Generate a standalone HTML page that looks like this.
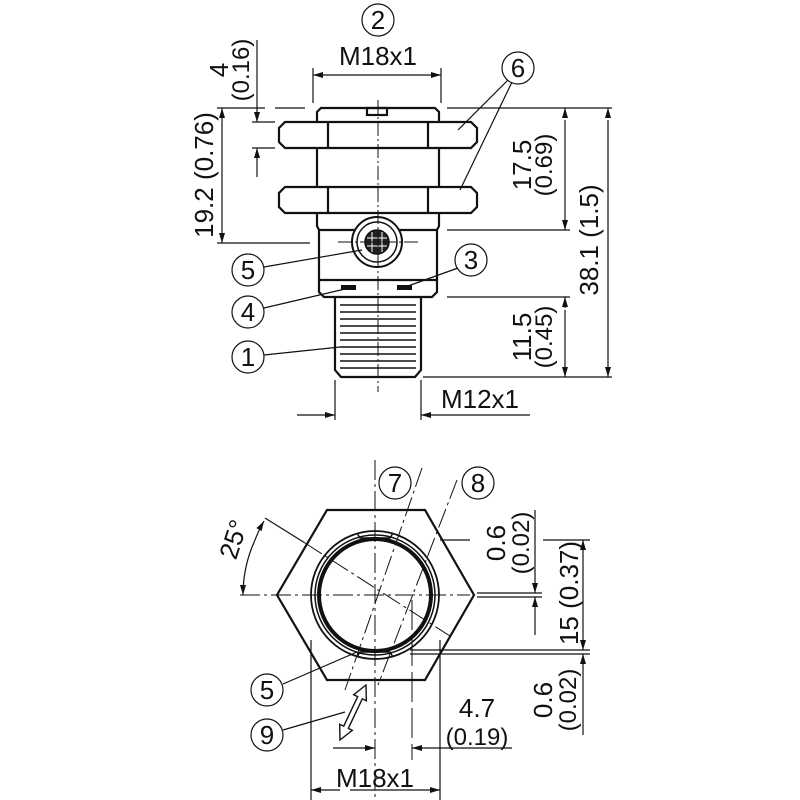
<!DOCTYPE html>
<html><head><style>body{margin:0;background:#fff}svg{display:block}text{font-family:"Liberation Sans",sans-serif;fill:#111}</style></head>
<body>
<svg width="800" height="800" viewBox="0 0 800 800" xmlns="http://www.w3.org/2000/svg">
<defs>
<marker id="a" markerWidth="10" markerHeight="8" refX="10" refY="4" orient="auto" markerUnits="userSpaceOnUse"><path d="M0,1 L10,4 L0,7 Z" fill="#111"/></marker>
</defs>
<g stroke="#111" fill="none" stroke-width="1.2">
<!-- TOP VIEW -->
<circle cx="378" cy="20" r="16"/>
<line x1="313" y1="68" x2="313" y2="103"/><line x1="441" y1="68" x2="441" y2="103"/>
<line x1="323" y1="75" x2="313" y2="75" marker-end="url(#a)"/>
<line x1="323" y1="75" x2="441" y2="75" marker-end="url(#a)"/>
<g stroke-width="2.2">
<path d="M317,122 L317,112 L321,108 L435,108 L439,112 L439,122"/>
<rect x="367" y="108" width="20" height="7"/>
<path d="M285,122 L471,122 L477,128 L477,142 L471,148 L285,148 L279,142 L279,128 Z"/>
<line x1="328" y1="122" x2="328" y2="148"/><line x1="428" y1="122" x2="428" y2="148"/>
<line x1="317" y1="148" x2="317" y2="187"/><line x1="439" y1="148" x2="439" y2="187"/>
<path d="M285,187 L471,187 L477,193 L477,207 L471,213 L285,213 L279,207 L279,193 Z"/>
<line x1="328" y1="187" x2="328" y2="213"/><line x1="428" y1="187" x2="428" y2="213"/>
<path d="M317,213 L317,226 L319,230 L319,292 L324,297 L432,297 L437,292 L437,230 L439,226 L439,213"/>
<line x1="319" y1="230" x2="437" y2="230"/>
<line x1="319" y1="280" x2="437" y2="280"/>
<path d="M335,297 L335,370 L341,377 L415,377 L421,370 L421,297"/>
</g>
<g stroke-width="1.5">
<line x1="340" y1="305" x2="416" y2="305"/><line x1="340" y1="312" x2="416" y2="312"/><line x1="340" y1="319" x2="416" y2="319"/><line x1="340" y1="326" x2="416" y2="326"/><line x1="340" y1="333" x2="416" y2="333"/><line x1="340" y1="340" x2="416" y2="340"/><line x1="340" y1="347" x2="416" y2="347"/><line x1="340" y1="354" x2="416" y2="354"/><line x1="340" y1="361" x2="416" y2="361"/><line x1="340" y1="368" x2="416" y2="368"/>
</g>
<rect x="341" y="285" width="15" height="5" fill="#111" stroke="none"/>
<rect x="397" y="285" width="15" height="5" fill="#111" stroke="none"/>
<circle cx="377" cy="242" r="25" stroke-width="2" fill="#fff"/>
<circle cx="377" cy="242" r="20" stroke-width="1.5"/>
<circle cx="377" cy="242" r="12" fill="#222" stroke-width="1.5"/>
<g stroke="#fff" stroke-width="1"><line x1="372" y1="232" x2="372" y2="252"/><line x1="382" y1="232" x2="382" y2="252"/><line x1="367" y1="238" x2="387" y2="238"/><line x1="367" y1="246" x2="387" y2="246"/></g>
<line x1="378" y1="100" x2="378" y2="392" stroke-dasharray="14,3,2,3" stroke-width="1"/>
<line x1="338" y1="242" x2="418" y2="242" stroke-dasharray="14,3,2,3" stroke-width="1"/>
<line x1="217" y1="108" x2="310" y2="108" stroke-dasharray="48,10,30"/>
<line x1="447" y1="108" x2="612" y2="108"/>
<line x1="217" y1="243" x2="310" y2="243"/>
<line x1="447" y1="230" x2="570" y2="230"/>
<line x1="447" y1="297" x2="570" y2="297"/>
<line x1="423" y1="377" x2="612" y2="377"/>
<line x1="252" y1="122" x2="275" y2="122"/><line x1="252" y1="148" x2="275" y2="148"/>
<line x1="257" y1="40" x2="257" y2="122" marker-end="url(#a)"/>
<line x1="257" y1="177" x2="257" y2="148" marker-end="url(#a)"/>
<line x1="222" y1="118" x2="222" y2="108" marker-end="url(#a)"/>
<line x1="222" y1="118" x2="222" y2="243" marker-end="url(#a)"/>
<line x1="565" y1="120" x2="565" y2="230" marker-end="url(#a)"/><line x1="565" y1="118" x2="565" y2="108" marker-end="url(#a)"/>
<line x1="608" y1="120" x2="608" y2="377" marker-end="url(#a)"/><line x1="608" y1="118" x2="608" y2="108" marker-end="url(#a)"/>
<line x1="565" y1="310" x2="565" y2="377" marker-end="url(#a)"/><line x1="565" y1="308" x2="565" y2="297" marker-end="url(#a)"/>
<line x1="335" y1="380" x2="335" y2="420"/><line x1="421" y1="380" x2="421" y2="420"/>
<line x1="297" y1="415" x2="335" y2="415" marker-end="url(#a)"/>
<line x1="530" y1="415" x2="421" y2="415" marker-end="url(#a)"/>
<circle cx="518" cy="68" r="16"/>
<line x1="508" y1="80" x2="458" y2="130"/><line x1="512" y1="82" x2="460" y2="190"/>
<circle cx="248" cy="270" r="16"/><line x1="264" y1="267" x2="362" y2="250"/>
<circle cx="471" cy="260" r="16"/><line x1="458" y1="268" x2="408" y2="286"/>
<circle cx="248" cy="312" r="16"/><line x1="264" y1="308" x2="345" y2="289"/>
<circle cx="248" cy="357" r="16"/><line x1="264" y1="355" x2="340" y2="347"/>

<!-- BOTTOM VIEW -->
<path d="M327,510 L425,510 L474,595 L425,680 L327,680 L277,595 Z" stroke-width="2.2"/>
<circle cx="375" cy="595" r="64" stroke-width="1.8"/>
<circle cx="375" cy="595" r="60" stroke-width="1.5"/>
<circle cx="375" cy="595" r="56" stroke-width="4"/>
<path d="M357,533 L360,538 L390,538 L393,533" stroke-width="1.5"/>
<path d="M357,657 L360,652 L390,652 L393,657" stroke-width="1.5"/>
<line x1="240" y1="595" x2="470" y2="595" stroke-dasharray="20,4,3,4" stroke-width="1"/>
<line x1="375" y1="460" x2="375" y2="800" stroke-dasharray="20,4,3,4" stroke-width="1"/>
<line x1="477" y1="593" x2="542" y2="593"/><line x1="477" y1="597" x2="542" y2="597"/>
<line x1="440" y1="540" x2="477" y2="540" stroke-dasharray="30,8"/><line x1="543" y1="540" x2="590" y2="540"/>
<line x1="410" y1="650" x2="590" y2="650"/><line x1="410" y1="654" x2="590" y2="654"/>
<line x1="535" y1="510" x2="535" y2="593" marker-end="url(#a)"/>
<line x1="535" y1="635" x2="535" y2="597" marker-end="url(#a)"/>
<line x1="583" y1="560" x2="583" y2="540" marker-end="url(#a)"/><line x1="583" y1="560" x2="583" y2="650" marker-end="url(#a)"/>
<line x1="583" y1="735" x2="583" y2="654" marker-end="url(#a)"/>
<line x1="265" y1="518" x2="305" y2="543"/>
<line x1="305" y1="543" x2="450" y2="636" stroke-dasharray="20,4,3,4" stroke-width="1"/>
<path d="M255,540 A132,132 0 0 0 243,595" marker-end="url(#a)"/>
<path d="M255,540 A132,132 0 0 1 264,521" marker-end="url(#a)"/>
<line x1="422" y1="468" x2="345" y2="690" stroke-dasharray="20,4,3,4" stroke-width="1"/>
<line x1="457" y1="480" x2="378" y2="685" stroke-dasharray="20,4,3,4" stroke-width="1"/>
<circle cx="395" cy="483" r="16"/><circle cx="478" cy="483" r="16"/>
<line x1="412" y1="600" x2="412" y2="760" stroke-dasharray="30,6" stroke-width="1"/>
<line x1="311" y1="640" x2="311" y2="800"/><line x1="440" y1="640" x2="440" y2="800"/>
<line x1="333" y1="748" x2="375" y2="748" marker-end="url(#a)"/>
<line x1="512" y1="748" x2="412" y2="748" marker-end="url(#a)"/>
<line x1="340" y1="790" x2="311" y2="790" marker-end="url(#a)"/>
<line x1="350" y1="790" x2="440" y2="790" marker-end="url(#a)"/>
<circle cx="267" cy="690" r="16"/><line x1="283" y1="684" x2="357" y2="652"/>
<circle cx="267" cy="735" r="16"/><line x1="283" y1="730" x2="345" y2="712"/>
<path d="M340,740 L352.3,730.3 L348.3,728.4 L362.3,698.8 L366.3,700.7 L366,685 L353.7,694.7 L357.7,696.6 L343.7,726.2 L339.7,724.3 Z" stroke-width="1.4" fill="#fff"/>
</g>
<g font-size="26" text-anchor="middle">
<text x="378" y="29">2</text><text x="518" y="77">6</text><text x="248" y="279">5</text><text x="471" y="269">3</text><text x="248" y="321">4</text><text x="248" y="366">1</text>
<text x="395" y="492">7</text><text x="478" y="492">8</text><text x="267" y="699">5</text><text x="267" y="744">9</text>
</g>
<g font-size="26" text-anchor="middle">
<text x="378" y="65">M18x1</text>
<text x="480" y="408">M12x1</text>
<text x="375" y="787">M18x1</text>
<text x="477" y="717">4.7</text><text x="477" y="745" font-size="24">(0.19)</text>
<text transform="translate(228,70) rotate(-90)">4</text>
<text transform="translate(249,70) rotate(-90)" font-size="24">(0.16)</text>
<text transform="translate(213,175) rotate(-90)">19.2 (0.76)</text>
<text transform="translate(531,165) rotate(-90)">17.5</text>
<text transform="translate(552,165) rotate(-90)" font-size="24">(0.69)</text>
<text transform="translate(598,240) rotate(-90)">38.1 (1.5)</text>
<text transform="translate(531,337) rotate(-90)">11.5</text>
<text transform="translate(552,337) rotate(-90)" font-size="24">(0.45)</text>
<text transform="translate(505,543) rotate(-90)">0.6</text>
<text transform="translate(529,543) rotate(-90)" font-size="24">(0.02)</text>
<text transform="translate(578,593) rotate(-90)">15 (0.37)</text>
<text transform="translate(552,700) rotate(-90)">0.6</text>
<text transform="translate(576,700) rotate(-90)" font-size="24">(0.02)</text>
<text transform="translate(242,542) rotate(-72)">25°</text>
</g>
</svg>
</body></html>
